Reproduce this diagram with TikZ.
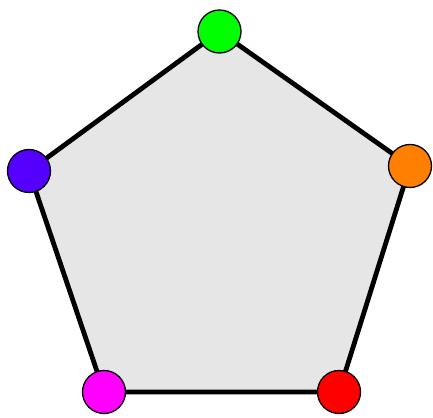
\documentclass[tikz,border=0pt]{standalone}
\usepackage{xcolor}
\usepackage{tikz}
\definecolor{vpurple}{HTML}{5500FF}
\definecolor{vorange}{HTML}{FF8000}
\definecolor{vmagenta}{HTML}{FF00FF}
\definecolor{vgreen}{HTML}{00FF00}
\definecolor{vred}{HTML}{FF0000}
\definecolor{edgefill}{HTML}{E6E6E6}

\begin{document}
\begin{tikzpicture}[
  x=1pt,y=1pt,
  vert/.style={draw,circle,line width=1.3pt,minimum size=43pt,inner sep=0pt},
  edge/.style={line width=4.8pt,line join=miter}
]
  \useasboundingbox (0,0) rectangle (433,417);
  \coordinate (top) at (219.5,385.5);
  \coordinate (right) at (410,251);
  \coordinate (botright) at (339,25);
  \coordinate (botleft) at (104,25);
  \coordinate (left) at (29,246);

  \filldraw[edge,fill=edgefill] (top) -- (right) -- (botright) -- (botleft) -- (left) -- cycle;

  \node[vert,fill=vgreen] (vtop) at (top) {};
  \node[vert,fill=vorange] (vright) at (right) {};
  \node[vert,fill=vred] (vbotright) at (botright) {};
  \node[vert,fill=vmagenta] (vbotleft) at (botleft) {};
  \node[vert,fill=vpurple] (vleft) at (left) {};
\end{tikzpicture}
\end{document}
